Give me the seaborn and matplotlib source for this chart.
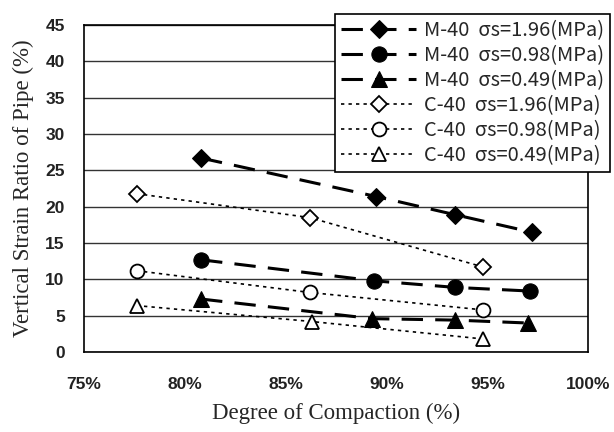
import numpy as np
import pandas as pd
import seaborn as sns
import matplotlib
matplotlib.use("Agg")
import matplotlib.pyplot as plt
from matplotlib.ticker import PercentFormatter, MultipleLocator

# data (compaction as fraction, strain in %)
m_x_196 = [0.808, 0.895, 0.934, 0.972]
m_y_196 = [26.7, 21.4, 18.9, 16.5]
m_x_098 = [0.808, 0.894, 0.934, 0.971]
m_y_098 = [12.7, 9.8, 8.9, 8.4]
m_x_049 = [0.808, 0.893, 0.934, 0.970]
m_y_049 = [7.3, 4.6, 4.4, 4.0]

c_x_196 = [0.776, 0.862, 0.948]
c_y_196 = [21.8, 18.5, 11.7]
c_x_098 = [0.776, 0.862, 0.948]
c_y_098 = [11.2, 8.2, 5.8]
c_x_049 = [0.776, 0.863, 0.948]
c_y_049 = [6.4, 4.2, 1.8]

labels = ["M-40  σs=1.96(MPa)", "M-40  σs=0.98(MPa)", "M-40  σs=0.49(MPa)",
          "C-40  σs=1.96(MPa)", "C-40  σs=0.98(MPa)", "C-40  σs=0.49(MPa)"]

series = [
    (m_x_196, m_y_196, "D", True),
    (m_x_098, m_y_098, "o", True),
    (m_x_049, m_y_049, "^", True),
    (c_x_196, c_y_196, "D", False),
    (c_x_098, c_y_098, "o", False),
    (c_x_049, c_y_049, "^", False),
]

sns.set_style("white")
fig, ax = plt.subplots(figsize=(6.14, 4.32), dpi=100)
fig.subplots_adjust(left=0.137, right=0.958, top=0.942, bottom=0.185)

for (xs, ys, mk, filled), lab in zip(series, labels):
    df = pd.DataFrame({"x": xs, "y": ys})
    size = 11 if mk != "D" else 9
    if filled:
        sns.lineplot(data=df, x="x", y="y", ax=ax, color="black", lw=2.2,
                     dashes=False, marker=mk, markersize=size,
                     markerfacecolor="black", markeredgecolor="black", label=lab)
        ax.lines[-1].set_dashes((7, 4))
    else:
        sns.lineplot(data=df, x="x", y="y", ax=ax, color="black", lw=1.2,
                     marker=mk, markersize=size - 1, markerfacecolor="white",
                     markeredgecolor="black", markeredgewidth=1.3, label=lab)
        ax.lines[-1].set_dashes((2, 2.5))

ax.set_xlim(0.75, 1.0)
ax.set_ylim(0, 45)
ax.xaxis.set_major_locator(MultipleLocator(0.05))
ax.xaxis.set_major_formatter(PercentFormatter(xmax=1.0, decimals=0))
ax.yaxis.set_major_locator(MultipleLocator(5))
ax.grid(axis="y", color="#333333", lw=1.0)
ax.grid(axis="x", visible=False)
for s in ax.spines.values():
    s.set_color("black")
    s.set_linewidth(1.2)
ax.tick_params(axis="x", direction="in", length=4, color="#555555", pad=18)
ax.tick_params(axis="y", length=0, pad=14)
for t in ax.get_xticklabels() + ax.get_yticklabels():
    t.set_fontfamily("Liberation Sans")
    t.set_fontweight("bold")
    t.set_fontsize(12.5)
    t.set_color("#222222")

ax.set_xlabel("Degree of Compaction (%)", family="Liberation Serif", fontsize=16.5, labelpad=8)
ax.set_ylabel("Vertical Strain Ratio of Pipe (%)", family="Liberation Serif", fontsize=16.5, labelpad=8)

leg = ax.legend(loc="upper right", bbox_to_anchor=(0.9935, 0.9676), bbox_transform=fig.transFigure,
                frameon=True, fancybox=False,
                handlelength=3.7, labelspacing=0.2, borderpad=0.3, handletextpad=0.4,
                borderaxespad=0,
                prop={"family": ["Noto Sans CJK JP", "DejaVu Sans"], "size": 14.5})
leg.get_frame().set_edgecolor("black")
leg.get_frame().set_linewidth(1.2)
leg.get_frame().set_alpha(1)

fig.savefig("out.png", dpi=100)
